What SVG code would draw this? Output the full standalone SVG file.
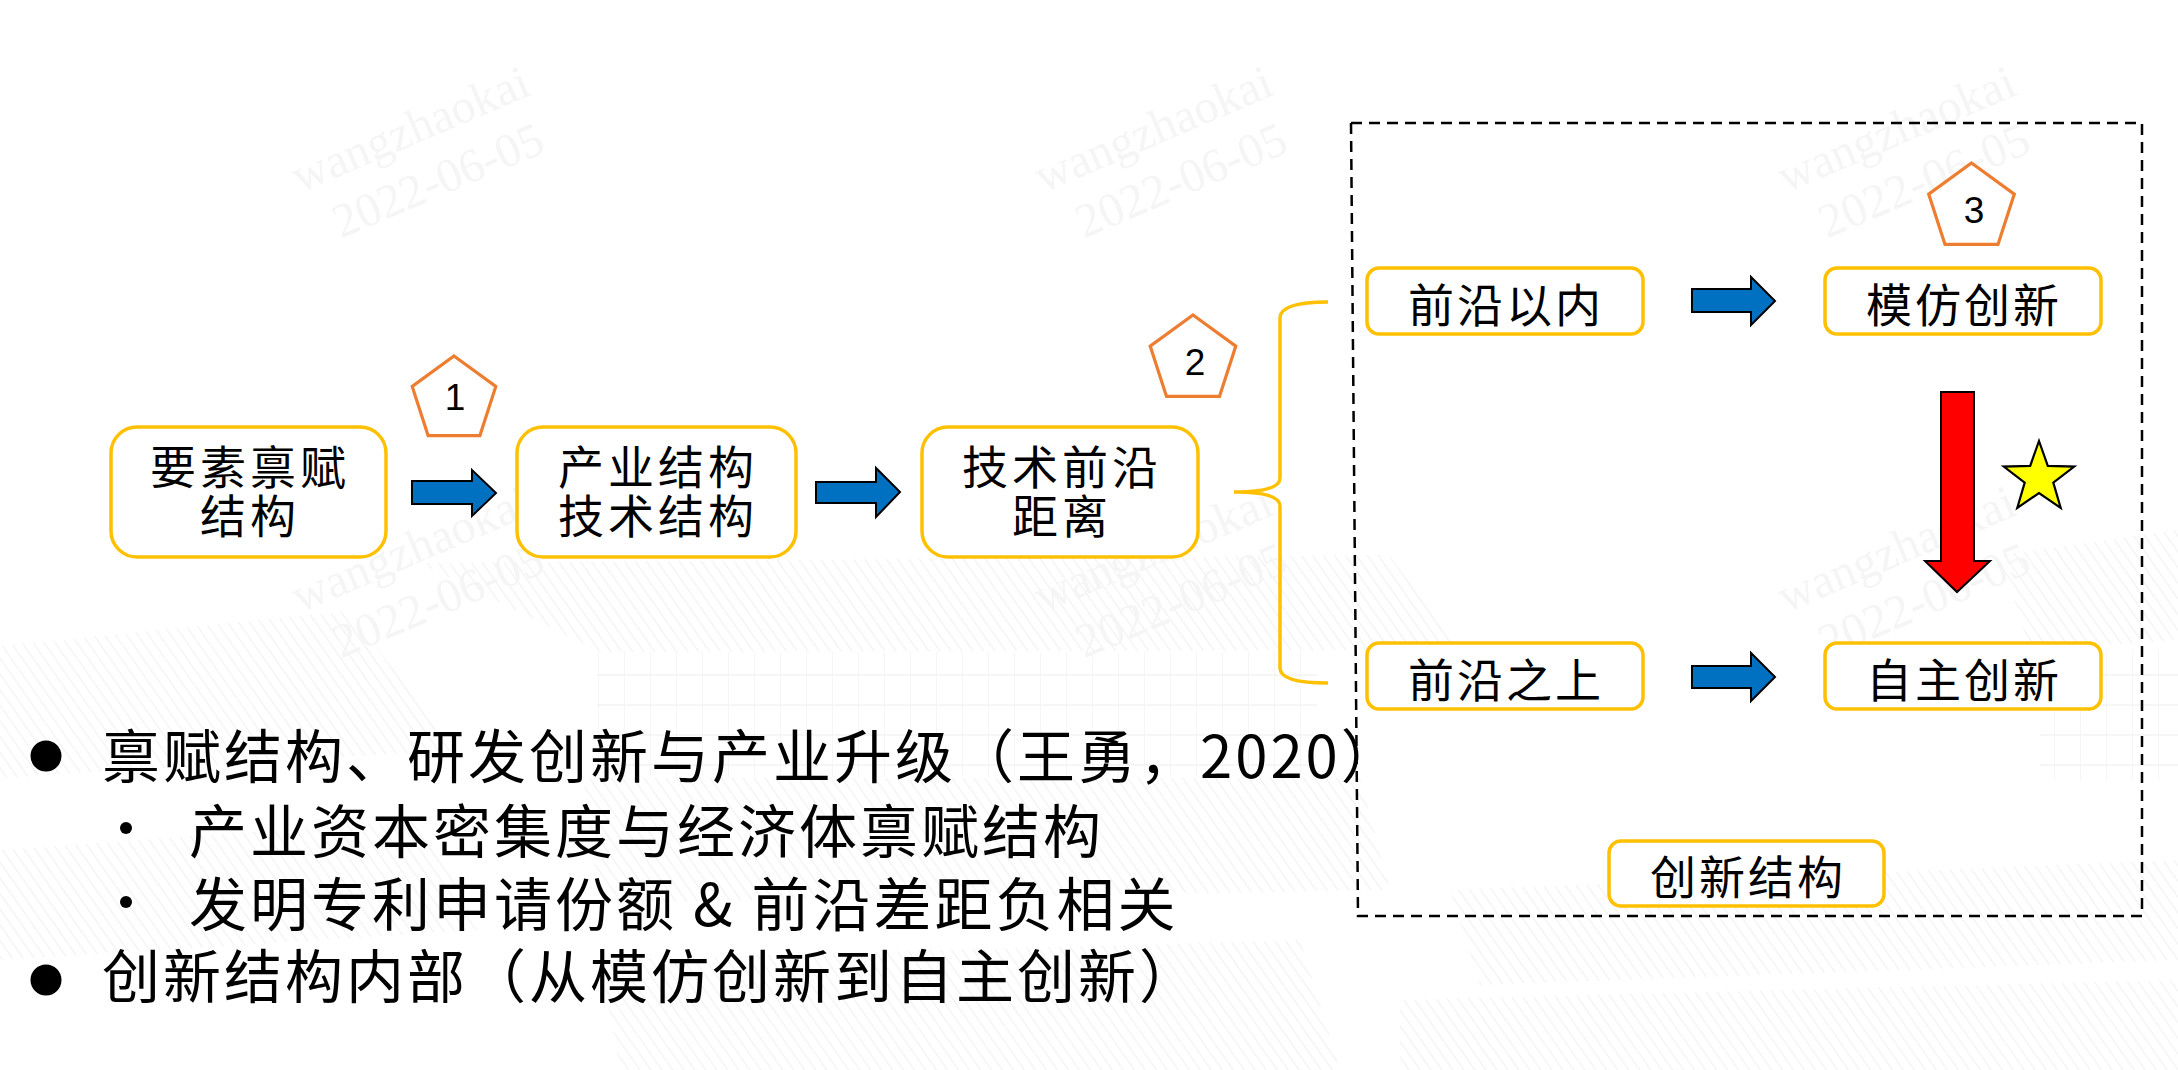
<svg xmlns="http://www.w3.org/2000/svg" width="2178" height="1070" viewBox="0 0 2178 1070">
<defs>
<pattern id="hatch" width="9" height="9" patternUnits="userSpaceOnUse" patternTransform="rotate(-35)">
<line x1="0" y1="0" x2="0" y2="9" stroke="#e9e9e9" stroke-width="1.6"/>
</pattern>
<pattern id="grid" width="26" height="30" patternUnits="userSpaceOnUse">
<path d="M0,0 V30 M0,15 H26" fill="none" stroke="#ececec" stroke-width="1.2"/>
</pattern>
</defs>
<style>
.box{fill:#fff;stroke:#FFC000;stroke-width:3.5}
.pent{fill:#fff;stroke:#ED7D31;stroke-width:3.2}
.num{font-family:"Liberation Sans",Arial,sans-serif;font-size:37px;fill:#000;text-anchor:middle}
.bt{font-family:"Noto Sans CJK SC","Noto Sans CJK JP",sans-serif;font-size:46px;fill:#000;text-anchor:middle;letter-spacing:4px}
.st{font-family:"Noto Sans CJK SC","Noto Sans CJK JP",sans-serif;font-size:46px;fill:#000;text-anchor:middle;letter-spacing:3px}
.lt{font-family:"Noto Sans CJK SC","Noto Sans CJK JP",sans-serif;font-size:58px;fill:#000;letter-spacing:3px}
.blue{fill:#0070C0;stroke:#000;stroke-width:2}
.wm{font-family:"Liberation Serif","Times New Roman",serif;font-size:48px;fill:#f5f5f5}
</style>
<rect width="2178" height="1070" fill="#fff"/>
<g id="background" opacity="0.8">
<polygon points="0,646 347,611 458,750 0,778" fill="url(#hatch)"/>
<polygon points="420,563 1389,555 1460,650 600,652" fill="url(#hatch)"/>
<rect x="597" y="652" width="720" height="125" fill="url(#grid)"/>
<polygon points="2000,555 2178,530 2178,640 2030,650" fill="url(#hatch)"/>
<rect x="2040" y="650" width="138" height="130" fill="url(#grid)"/>
<polygon points="583,778 1360,778 1390,890 600,903" fill="url(#hatch)"/>
<polygon points="1450,890 2178,860 2178,960 1480,985" fill="url(#hatch)"/>
<polygon points="0,850 420,820 480,930 0,960" fill="url(#hatch)"/>
<polygon points="600,960 1300,940 1340,1070 620,1070" fill="url(#hatch)"/>
<polygon points="1400,1000 2178,980 2178,1070 1400,1070" fill="url(#hatch)"/>
</g>
<g id="watermarks">
<g transform="translate(300,193) rotate(-23)"><text class="wm">wangzhaokai</text><text class="wm" x="20" y="58">2022-06-05</text></g>
<g transform="translate(1043,193) rotate(-23)"><text class="wm">wangzhaokai</text><text class="wm" x="20" y="58">2022-06-05</text></g>
<g transform="translate(1786,193) rotate(-23)"><text class="wm">wangzhaokai</text><text class="wm" x="20" y="58">2022-06-05</text></g>
<g transform="translate(300,613) rotate(-23)"><text class="wm">wangzhaokai</text><text class="wm" x="20" y="58">2022-06-05</text></g>
<g transform="translate(1043,613) rotate(-23)"><text class="wm">wangzhaokai</text><text class="wm" x="20" y="58">2022-06-05</text></g>
<g transform="translate(1786,613) rotate(-23)"><text class="wm">wangzhaokai</text><text class="wm" x="20" y="58">2022-06-05</text></g>
</g>
<g id="innovation-frame">
<path d="M1351,123 H2142 V916 H1358 Z" fill="none" stroke="#000" stroke-width="2.5" stroke-dasharray="11 7"/>
</g>
<g id="connectors">
<path class="blue" d="M412,481 H472 V470 L496,493 L472,516 V504 H412 Z"/>
<path class="blue" d="M816,482 H876 V468 L900,492 L876,517 V503 H816 Z"/>
<path class="blue" d="M1692,289 H1751 V277 L1775,301 L1751,325 V312 H1692 Z"/>
<path class="blue" d="M1692,666 H1751 V653 L1775,677 L1751,701 V688 H1692 Z"/>
<path d="M1941,392 H1974 V561 H1990 L1957,592 L1925,561 H1941 Z" fill="#FF0000" stroke="#000" stroke-width="2"/>
<path d="M1328,302 Q1280,302 1280,318 V478 Q1280,492 1234,492 Q1280,492 1280,506 V668 Q1280,683 1328,683" fill="none" stroke="#FFC000" stroke-width="3.5"/>
</g>
<g id="node-endowment">
<rect class="box" x="111" y="427" width="275" height="130" rx="26"/>
<text class="bt"><tspan x="250" y="484">要素禀赋</tspan><tspan x="250" y="533">结构</tspan></text>
</g>
<g id="node-industry">
<rect class="box" x="517" y="427" width="279" height="130" rx="26"/>
<text class="bt"><tspan x="658" y="484">产业结构</tspan><tspan x="658" y="533">技术结构</tspan></text>
</g>
<g id="node-distance">
<rect class="box" x="922" y="427" width="276" height="130" rx="26"/>
<text class="bt"><tspan x="1062" y="484">技术前沿</tspan><tspan x="1062" y="533">距离</tspan></text>
</g>
<g id="badge-1">
<polygon class="pent" points="454,356 495.8,386.4 479.9,435.6 428.1,435.6 412.2,386.4"/>
<text class="num" x="455" y="410">1</text>
</g>
<g id="badge-2">
<polygon class="pent" points="1193,315 1235.8,346.1 1219.5,396.4 1166.5,396.4 1150.2,346.1"/>
<text class="num" x="1195" y="375">2</text>
</g>
<g id="badge-3">
<polygon class="pent" points="1971.5,163 2014.3,194.1 1998,244.4 1945,244.4 1928.7,194.1"/>
<text class="num" x="1974" y="223">3</text>
</g>
<g id="node-within">
<rect class="box" x="1367" y="268" width="276" height="66" rx="12"/>
<text class="st" x="1506" y="322">前沿以内</text>
</g>
<g id="node-imitation">
<rect class="box" x="1825" y="268" width="276" height="66" rx="12"/>
<text class="st" x="1964" y="322">模仿创新</text>
</g>
<g id="node-above">
<rect class="box" x="1367" y="643" width="276" height="66" rx="12"/>
<text class="st" x="1506" y="697">前沿之上</text>
</g>
<g id="node-independent">
<rect class="box" x="1825" y="643" width="276" height="66" rx="12"/>
<text class="st" x="1964" y="697">自主创新</text>
</g>
<g id="node-structure">
<rect class="box" x="1609" y="841" width="275" height="65" rx="12"/>
<text class="st" x="1748" y="894">创新结构</text>
</g>
<g id="star">
<polygon points="2039,441 2047.8,465.9 2074.2,466.6 2053.3,482.6 2060.7,507.9 2039,493 2017.3,507.9 2024.7,482.6 2003.8,466.6 2030.2,465.9" fill="#FFFF00" stroke="#000" stroke-width="2.2"/>
</g>
<g id="bullets">
<circle cx="46" cy="756" r="15.5" fill="#000"/>
<text class="lt" x="102" y="778">禀赋结构、研发创新与产业升级（王勇，2020）</text>
<circle cx="126" cy="828" r="6" fill="#000"/>
<text class="lt" x="189" y="853">产业资本密集度与经济体禀赋结构</text>
<circle cx="126" cy="902" r="6" fill="#000"/>
<text class="lt" x="189" y="926">发明专利申请份额 &amp; 前沿差距负相关</text>
<circle cx="46" cy="980" r="15.5" fill="#000"/>
<text class="lt" x="102" y="998">创新结构内部（从模仿创新到自主创新）</text>
</g>
</svg>
